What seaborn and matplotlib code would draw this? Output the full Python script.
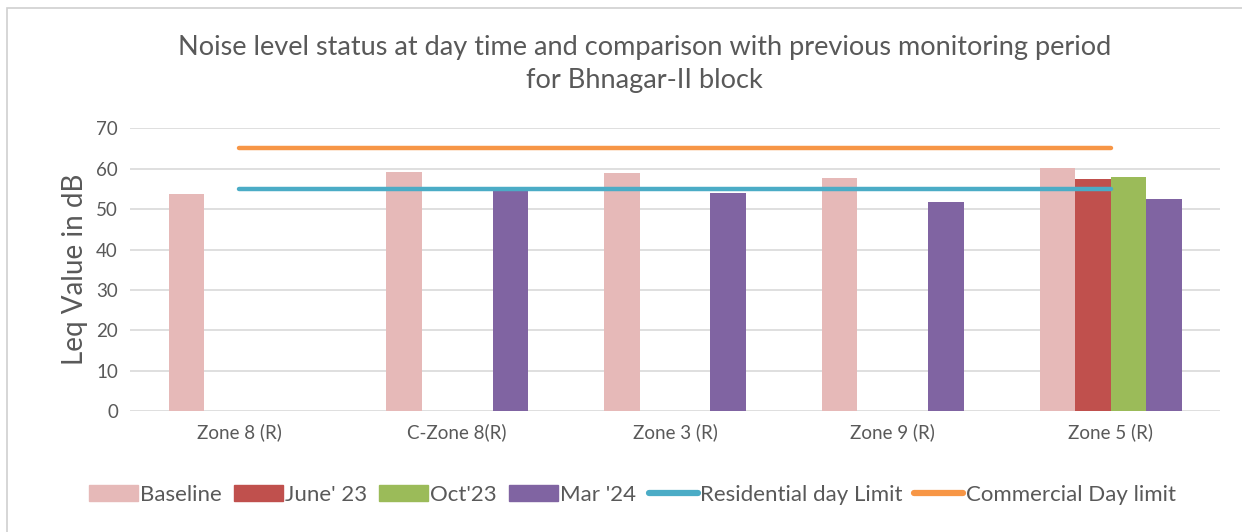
import pandas as pd
import numpy as np
import matplotlib.pyplot as plt
import seaborn as sns
from matplotlib.patches import Rectangle
from matplotlib.lines import Line2D
from matplotlib.patches import Patch

zones = ["Zone 8 (R)", "C-Zone 8(R)", "Zone 3 (R)", "Zone 9 (R)", "Zone 5 (R)"]
periods = ["Baseline", "June' 23", "Oct'23", "Mar '24"]
baseline = [53.7, 59.2, 58.9, 57.7, 60.1]
june23 = [np.nan, np.nan, np.nan, np.nan, 57.4]
oct23 = [np.nan, np.nan, np.nan, np.nan, 57.9]
mar24 = [np.nan, 54.5, 54.0, 51.7, 52.4]
res_limit = [55, 55, 55, 55, 55]
com_limit = [65, 65, 65, 65, 65]

bar_colors = ["#e6b9b8", "#c0504d", "#9bbb59", "#8064a2"]
res_color = "#4bacc6"
com_color = "#f79646"

df = pd.DataFrame({"Zone": zones, "Baseline": baseline, "June' 23": june23,
                   "Oct'23": oct23, "Mar '24": mar24})
long = df.melt(id_vars="Zone", var_name="Period", value_name="Leq")

sns.set_style("white")
plt.rcParams['font.family'] = ['Lato', 'DejaVu Sans']
txt = "#595959"

fig = plt.figure(figsize=(12.42, 5.32), dpi=100)
ax = fig.add_axes([0.105, 0.227, 0.877, 0.532])

sns.barplot(data=long, x="Zone", y="Leq", hue="Period", order=zones,
            hue_order=periods, palette=bar_colors, width=0.65, ax=ax,
            legend=False, saturation=1, err_kws={'linewidth': 0}, linewidth=0)

x = np.arange(len(zones))
ax.plot(x, res_limit, color=res_color, lw=3.2, solid_capstyle='round', zorder=5)
ax.plot(x, com_limit, color=com_color, lw=3.2, solid_capstyle='round', zorder=5)

ax.set_ylim(0, 70)
ax.set_xlim(-0.5, 4.5)
ax.set_yticks(range(0, 71, 10))
ax.yaxis.grid(True, color="#d9d9d9", lw=1.2)
ax.set_axisbelow(True)
for s in ax.spines.values():
    s.set_visible(False)
ax.tick_params(axis='both', length=0, labelsize=13.5, colors=txt, pad=9)
ax.set_xlabel("")
ax.set_ylabel("Leq Value in dB", fontsize=20, color=txt, labelpad=6)

fig.text(0.519, 0.911, "Noise level status at day time and comparison with previous monitoring period",
         ha='center', va='center', fontsize=19.5, color=txt)
fig.text(0.519, 0.848, "for Bhnagar-II block", ha='center', va='center', fontsize=19.5, color=txt)

handles = [Patch(color=c) for c in bar_colors] + \
          [Line2D([], [], color=res_color, lw=4.5, solid_capstyle='round'),
           Line2D([], [], color=com_color, lw=4.5, solid_capstyle='round')]
labels = periods + ["Residential day Limit", "Commercial Day limit"]
fig.legend(handles, labels, loc='center', bbox_to_anchor=(0.509, 0.07), ncol=6,
           frameon=False, fontsize=16, labelcolor=txt, handlelength=2.2,
           handletextpad=0.1, columnspacing=0.55)

fig.add_artist(Rectangle((0.006, -0.01), 1.2, 0.995, transform=fig.transFigure,
                         fill=False, edgecolor="#d0d0d0", lw=1.2))

fig.savefig("out.png", dpi=100)
